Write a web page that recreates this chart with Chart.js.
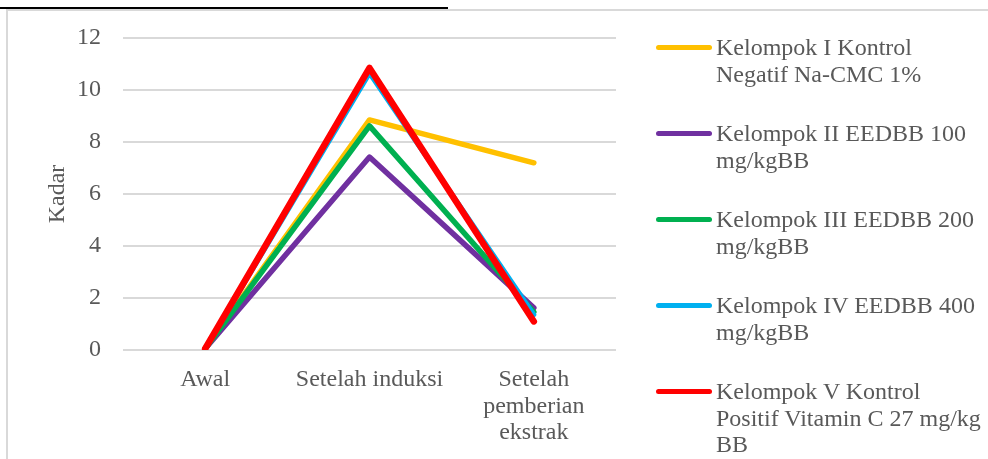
<!DOCTYPE html>
<html>
<head>
<meta charset="utf-8">
<script src="https://cdn.jsdelivr.net/npm/chart.js@4.4.1/dist/chart.umd.min.js"></script>
<style>
    body { margin: 0; background: #fff; }
    #page { position: relative; width: 988px; height: 459px; overflow: hidden; }
    #topline { position: absolute; left: 0; top: 7px; width: 448px; height: 2px; background: #000; }
    #frame { position: absolute; left: 6px; top: 9px; width: 1000px; height: 460px;
        border-left: 2px solid #d9d9d9; border-top: 2px solid #d9d9d9; }
    #chart { position: absolute; left: 0; top: 0; }
    #legend { position: absolute; left: 656px; top: 34px; font-family: "Liberation Serif", serif;
        font-size: 24px; line-height: 26.5px; color: #595959; }
    .item { position: relative; padding-left: 60px; margin-bottom: 33px; white-space: nowrap; }
    .swatch { position: absolute; left: 0; top: 11px; width: 56px; height: 5px; border-radius: 3px; }
</style>
</head>
<body>
<div id="page">
    <div id="topline"></div>
    <div id="frame"></div>
    <canvas id="chart" width="988" height="459"></canvas>
    <div id="legend"></div>
</div>
<script>
    'use strict';

    let categories = ["Awal", "Setelah induksi", ["Setelah", "pemberian", "ekstrak"]]
    let yTicks = [0, 2, 4, 6, 8, 10, 12]

    let seriesNames = [
        ["Kelompok I Kontrol", "Negatif Na-CMC 1%"],
        ["Kelompok II EEDBB 100", "mg/kgBB"],
        ["Kelompok III EEDBB 200", "mg/kgBB"],
        ["Kelompok IV EEDBB 400", "mg/kgBB"],
        ["Kelompok V Kontrol", "Positif Vitamin C 27 mg/kg", "BB"]
    ]
    let kelompok1 = [0.05, 8.85, 7.2]
    let kelompok2 = [0.05, 7.42, 1.62]
    let kelompok3 = [0.05, 8.62, 1.46]
    let kelompok4 = [0.05, 10.65, 1.36]
    let kelompok5 = [0.05, 10.85, 1.1]

    let colors = ["#ffc000", "#7030a0", "#00b050", "#00b0f0", "#ff0000"]
    let widths = [5.5, 5.5, 5.5, 5, 6.5]

    let allValues = [kelompok1, kelompok2, kelompok3, kelompok4, kelompok5]
    let datasets = []
    for (let i = 0; i < allValues.length; i++) {
        datasets.push({
            label: seriesNames[i].join(" "),
            data: allValues[i],
            borderColor: colors[i],
            backgroundColor: colors[i],
            borderWidth: widths[i],
            borderCapStyle: 'round',
            borderJoinStyle: 'round',
            pointRadius: 0,
            tension: 0,
            order: allValues.length - 1 - i
        })
    }

    let tickFont = { family: "Liberation Serif", size: 24, lineHeight: 1.12 }

    let options = {
        responsive: false,
        animation: false,
        layout: { padding: { left: 43, right: 372, top: 38, bottom: 0 } },
        plugins: {
            legend: { display: false },
            tooltip: { enabled: false }
        },
        scales: {
            x: {
                offset: true,
                grid: { display: false },
                border: { display: false },
                ticks: { color: "#595959", font: tickFont, padding: 8, maxRotation: 0, autoSkip: false },
                afterFit: function (scale) { scale.height = 109 }
            },
            y: {
                min: 0,
                max: 12,
                afterBuildTicks: function (scale) {
                    scale.ticks = yTicks.map(function (v) { return { value: v } })
                },
                grid: { color: "#d9d9d9", lineWidth: 2, drawTicks: false },
                border: { display: false },
                ticks: { color: "#595959", font: tickFont, padding: 22 },
                title: {
                    display: true,
                    text: "Kadar",
                    color: "#595959",
                    font: { family: "Liberation Serif", size: 24 },
                    padding: { top: 0, bottom: 0 }
                },
                afterFit: function (scale) { scale.width = 80 }
            }
        }
    }

    new Chart(document.getElementById("chart").getContext("2d"), {
        type: 'line',
        data: { labels: categories, datasets: datasets },
        options: options
    })

    // legend drawn as html, text wraps like the original
    let legend = document.getElementById("legend")
    for (let i = 0; i < seriesNames.length; i++) {
        let item = document.createElement("div")
        item.className = "item"
        let sw = document.createElement("span")
        sw.className = "swatch"
        sw.style.background = colors[i]
        item.appendChild(sw)
        for (let j = 0; j < seriesNames[i].length; j++) {
            let line = document.createElement("div")
            line.textContent = seriesNames[i][j]
            item.appendChild(line)
        }
        legend.appendChild(item)
    }
</script>
</body>
</html>
